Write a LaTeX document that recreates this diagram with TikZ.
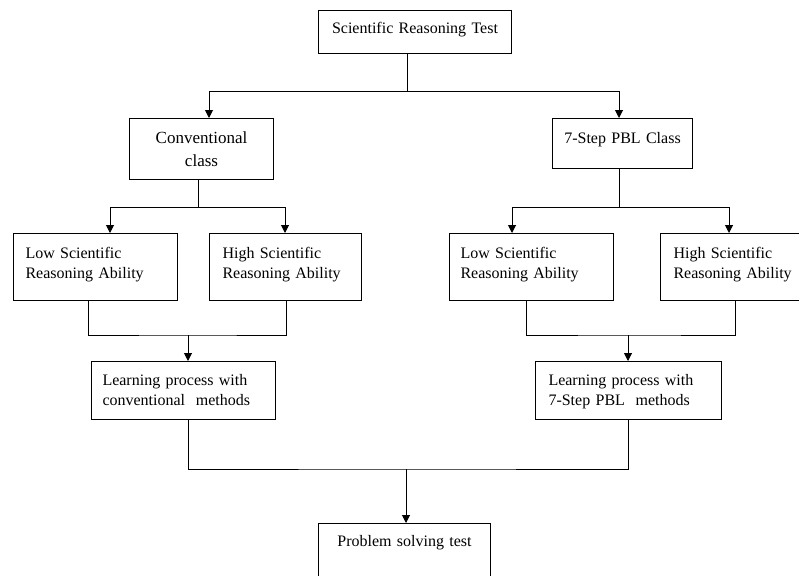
\documentclass[tikz,border=0pt]{standalone}
\usepackage{fontspec}
\setmainfont{Liberation Serif}
\usetikzlibrary{arrows.meta}
\tikzset{
  box/.style={draw, rectangle, anchor=north west, inner ysep=0pt, align=left,
    font=\fontsize{16}{20}\selectfont},
  midbox/.style={box, inner xsep=0pt, align=center},
}
\begin{document}
\begin{tikzpicture}[x=1pt, y=-1pt, line width=1pt, >={Triangle[length=8pt,width=8pt]}]
      \useasboundingbox (0,0) rectangle (799,575);
      \draw
        (318,10) node[midbox, text width=193pt, text height=23pt, text depth=20pt] (test){Scientific Reasoning Test}
        (129,118) node[midbox, text width=144pt, text height=25pt, text depth=36pt, font=\fontsize{17}{23}\selectfont] (conv){Conventional\\class}
        (552,118) node[midbox, text width=140pt, text height=25pt, text depth=25pt] (pbl){7-Step PBL Class}
        (13,233) node[box, inner xsep=12pt, text width=140pt, text height=25pt, text depth=42pt] (lowA){Low Scientific\\Reasoning Ability}
        (209,233) node[box, inner xsep=13pt, text width=126pt, text height=25pt, text depth=42pt] (highA){High Scientific\\Reasoning Ability}
        (449,233) node[box, inner xsep=11pt, text width=142pt, text height=25pt, text depth=42pt] (lowB){Low Scientific\\Reasoning Ability}
        (660,233) node[box, inner xsep=13pt, text width=126pt, text height=25pt, text depth=42pt] (highB){High Scientific\\Reasoning Ability}
        (91,361) node[box, inner xsep=11pt, text width=162pt, text height=24pt, text depth=34pt] (learnA){Learning process with\\conventional~~methods}
        (535,361) node[box, inner xsep=13pt, text width=160pt, text height=24pt, text depth=34pt] (learnB){Learning process with\\7-Step PBL~~methods}
        (318,523) node[midbox, text width=172pt, text height=23pt, text depth=47pt] (prob){Problem solving test};
      \coordinate (root) at (407,92);
      \coordinate (convfork) at (198,207);
      \coordinate (pblfork) at (619,207);
      \coordinate (convjoin) at (188,335);
      \coordinate (pbljoin) at (628,335);
      \coordinate (finaljoin) at (406,469);
      \begin{scope}[->]
        \draw (407,0 |- test.south) -- (root) -| (209,0 |- conv.north);
        \draw (root) -| (619,0 |- pbl.north);
        \draw (198,0 |- conv.south) -- (convfork) -| (110,0 |- lowA.north);
        \draw (convfork) -| (285,0 |- highA.north);
        \draw (619,0 |- pbl.south) -- (pblfork) -| (512,0 |- lowB.north);
        \draw (pblfork) -| (729,0 |- highB.north);
        \draw (convjoin) -- (convjoin |- learnA.north);
        \draw (pbljoin) -- (pbljoin |- learnB.north);
        \draw (finaljoin) -- (finaljoin |- prob.north);
      \end{scope}
      \begin{scope}[-]
        \draw (88,0 |- lowA.south) |- (convjoin) -| (286,0 |- highA.south);
        \draw (526,0 |- lowB.south) |- (pbljoin) -| (735,0 |- highB.south);
        \draw (188,0 |- learnA.south) |- (finaljoin) -| (learnB.south);
      \end{scope}
    \end{tikzpicture}
\end{document}
